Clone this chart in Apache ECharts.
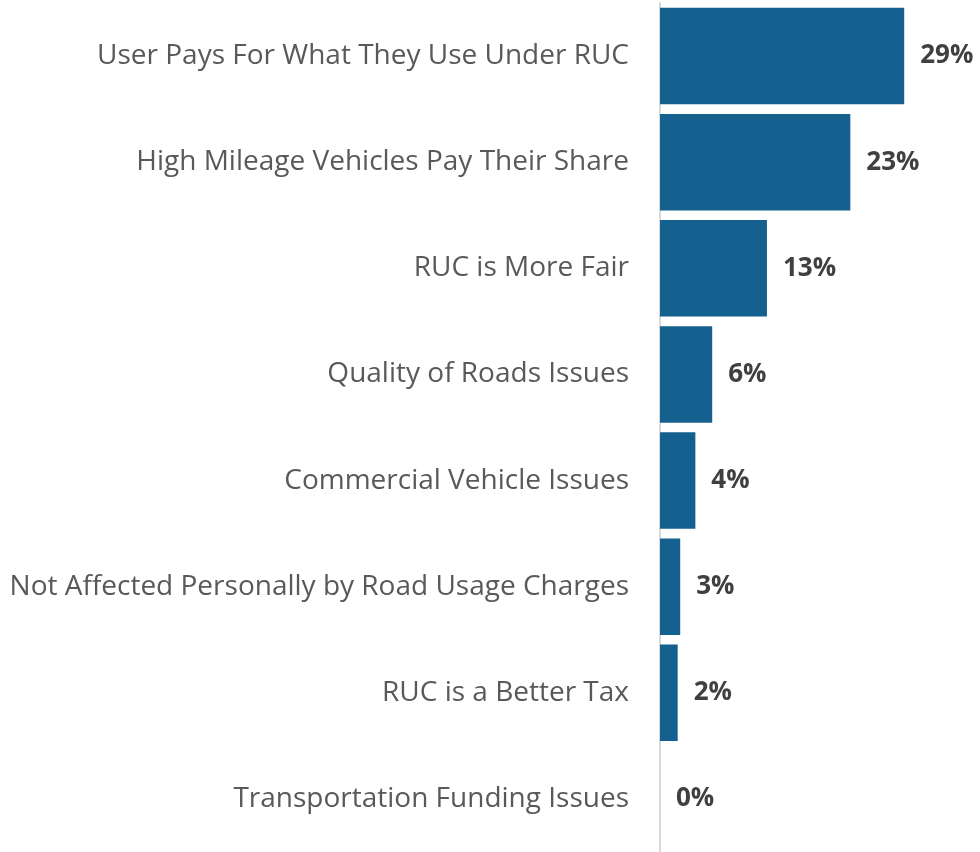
<!DOCTYPE html>
<html><head><meta charset="utf-8">
<script src="https://cdn.jsdelivr.net/npm/echarts@6/dist/echarts.min.js"></script>
<style>html,body{margin:0;padding:0;background:#fff}#c{width:980px;height:852px}</style>
</head><body><div id="c"></div>
<script>
const categories = [
  "User Pays For What They Use Under RUC",
  "High Mileage Vehicles Pay Their Share",
  "RUC is More Fair",
  "Quality of Roads Issues",
  "Commercial Vehicle Issues",
  "Not Affected Personally by Road Usage Charges",
  "RUC is a Better Tax",
  "Transportation Funding Issues"
];
const values = [29.0, 22.6, 12.7, 6.2, 4.2, 2.4, 2.1, 0];
const valueLabels = ["29%", "23%", "13%", "6%", "4%", "3%", "2%", "0%"];

const chart = echarts.init(document.getElementById('c'), null, {renderer: 'canvas'});
chart.setOption({
  animation: false,
  grid: {left: 660, right: 0, top: 3, bottom: -4, containLabel: false},
  xAxis: {type: 'value', min: 0, max: 38, show: false},
  yAxis: {
    type: 'category', data: categories, inverse: true,
    axisLine: {show: true, lineStyle: {color: '#D9D9D9', width: 2}},
    axisTick: {show: false},
    axisLabel: {color: '#595959', fontFamily: 'Open Sans', fontSize: 28, margin: 31, padding: [3, 0, 0, 0]}
  },
  series: [{
    type: 'bar', data: values, barCategoryGap: '9%',
    itemStyle: {color: '#14608F'},
    label: {
      show: true, position: 'right', distance: 16,
      color: '#404040', fontFamily: 'Open Sans', fontWeight: 'bold', fontSize: 26,
      padding: [3, 0, 0, 0],
      formatter: p => valueLabels[p.dataIndex]
    }
  }]
});
</script></body></html>
